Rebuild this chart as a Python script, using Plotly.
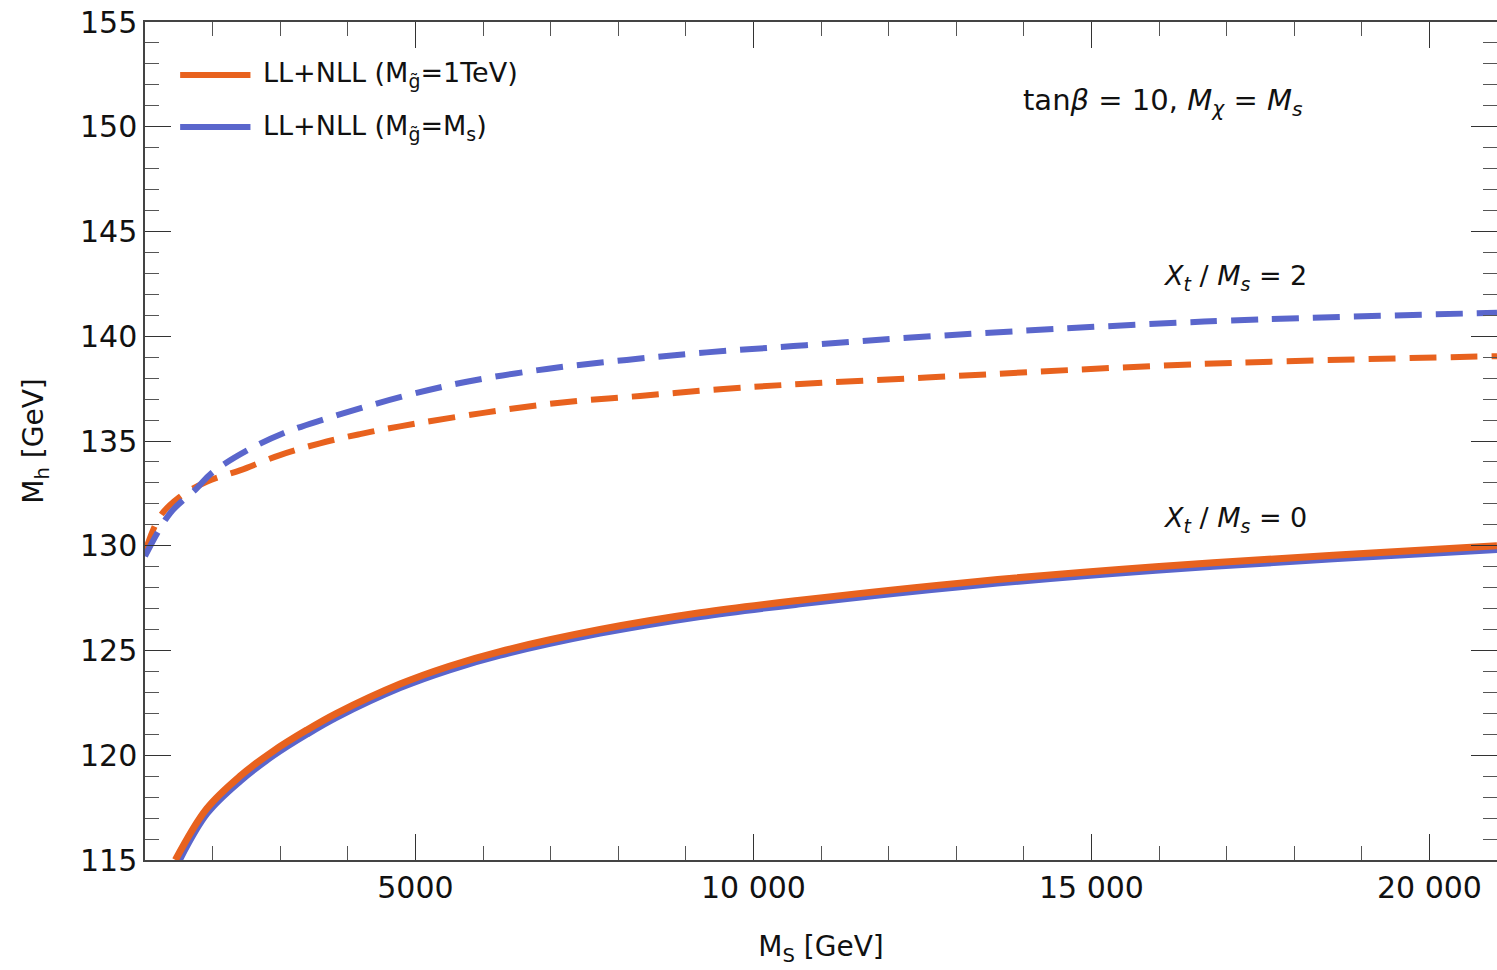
import plotly.graph_objects as go

# ---- data ----
ms_solid_orange = [1450, 1913, 2405, 2898, 3392, 3834, 4772, 5500, 6251, 7731, 9210, 10689, 13318, 15950, 18578, 21000]
mh_solid_orange = [115.0, 117.45, 119.0, 120.2, 121.2, 122.0, 123.4, 124.25, 124.95, 126.0, 126.8, 127.4, 128.3, 129.0, 129.55, 130.0]

ms_solid_blue = [1500, 1913, 2405, 2898, 3392, 3834, 4772, 5500, 6251, 7731, 9210, 10689, 13318, 15950, 18578, 21000]
mh_solid_blue = [115.0, 117.25, 118.8, 120.02, 121.03, 121.84, 123.25, 124.1, 124.8, 125.85, 126.65, 127.25, 128.15, 128.85, 129.4, 129.85]

ms_dash_orange = [1000, 1222, 1500, 1912, 2405, 2997, 3589, 4180, 4772, 5956, 7139, 8322, 9506, 10689, 12561, 16666, 21000]
mh_dash_orange = [129.7, 131.4, 132.3, 133.06, 133.6, 134.33, 134.89, 135.33, 135.7, 136.32, 136.83, 137.15, 137.47, 137.72, 138.03, 138.68, 139.05]

ms_dash_blue = [1000, 1370, 1765, 1985, 2504, 3046, 3614, 4772, 5759, 6942, 8125, 9309, 10591, 12390, 16666, 21000]
mh_dash_blue = [129.5, 131.55, 132.74, 133.47, 134.54, 135.37, 136.0, 137.09, 137.83, 138.44, 138.87, 139.23, 139.53, 139.95, 140.7, 141.12]

x_tickvals = [5000, 10000, 15000, 20000]
x_ticktext = ["5000", "10 000", "15 000", "20 000"]
y_tickvals = [115, 120, 125, 130, 135, 140, 145, 150, 155]

legend_labels = ["LL+NLL (M<sub>g̃</sub>=1TeV)", "LL+NLL (M<sub>g̃</sub>=M<sub>s</sub>)"]

ORANGE = "#E8621E"
BLUE = "#5A66CC"
FONT = "DejaVu Sans, Liberation Sans, Arial, sans-serif"
TXT = "#111"

fig = go.Figure()
fig.add_trace(go.Scatter(x=ms_dash_orange, y=mh_dash_orange, mode="lines", line=dict(color=ORANGE, width=6, dash="27px,14px", shape="spline"), showlegend=False))
fig.add_trace(go.Scatter(x=ms_dash_blue, y=mh_dash_blue, mode="lines", line=dict(color=BLUE, width=6, dash="27px,14px", shape="spline"), showlegend=False))
fig.add_trace(go.Scatter(x=ms_solid_blue, y=mh_solid_blue, mode="lines", line=dict(color=BLUE, width=8, shape="spline"), showlegend=False))
fig.add_trace(go.Scatter(x=ms_solid_orange, y=mh_solid_orange, mode="lines", line=dict(color=ORANGE, width=7, shape="spline"), showlegend=False))

# manual legend
leg_y = [0.9368, 0.8747]
for lab, col, yy in zip(legend_labels, [ORANGE, BLUE], leg_y):
    fig.add_shape(type="line", xref="paper", yref="paper", x0=0.026, x1=0.078, y0=yy, y1=yy,
                  line=dict(color=col, width=6))
    fig.add_annotation(xref="paper", yref="paper", x=0.0855, y=yy, text=lab, showarrow=False,
                       xanchor="left", yanchor="middle", font=dict(size=27, color=TXT, family=FONT))

ann_font = dict(size=27, color=TXT, family=FONT)
fig.add_annotation(x=16060, y=151.2, text="tan<i>β</i> = 10, <i>M</i><sub><i>χ</i></sub> = <i>M</i><sub><i>s</i></sub>",
                   showarrow=False, xanchor="center", yanchor="middle", font=dict(size=29, color=TXT, family=FONT))
fig.add_annotation(x=17120, y=142.8, text="<i>X</i><sub><i>t</i></sub> / <i>M</i><sub><i>s</i></sub> = 2",
                   showarrow=False, xanchor="center", yanchor="middle", font=ann_font)
fig.add_annotation(x=17120, y=131.25, text="<i>X</i><sub><i>t</i></sub> / <i>M</i><sub><i>s</i></sub> = 0",
                   showarrow=False, xanchor="center", yanchor="middle", font=ann_font)

axis_common = dict(showline=True, linecolor="#444", linewidth=1.5, mirror="ticks", ticks="inside",
                   tickcolor="#333", tickwidth=1.3, ticklen=26, showgrid=False, zeroline=False,
                   ticklabeloverflow="allow", automargin=False,
                   tickfont=dict(size=30, color=TXT, family=FONT))

fig.update_xaxes(range=[1000, 21000], tickmode="array", tickvals=x_tickvals, ticktext=x_ticktext,
                 minor=dict(dtick=1000, tick0=0, ticks="inside", ticklen=14, tickcolor="#555", tickwidth=1.1, showgrid=False),
                 title=dict(text="M<sub>S</sub> [GeV]", font=dict(size=28, color=TXT, family=FONT), standoff=33),
                 **axis_common)
fig.update_yaxes(range=[115, 155], tickmode="array", tickvals=y_tickvals,
                 minor=dict(dtick=1, tick0=0, ticks="inside", ticklen=14, tickcolor="#555", tickwidth=1.1, showgrid=False),
                 title=dict(text="M<sub>h</sub> [GeV]", font=dict(size=28, color=TXT, family=FONT), standoff=28),
                 **axis_common)

fig.update_layout(width=1497, height=970, margin=dict(l=145, r=0, t=22, b=110),
                  plot_bgcolor="white", paper_bgcolor="white", showlegend=False,
                  font=dict(family=FONT))

fig.write_html("out.html", config={"displayModeBar": False},
               post_script="document.body.style.margin='0';document.body.style.overflow='hidden';")
